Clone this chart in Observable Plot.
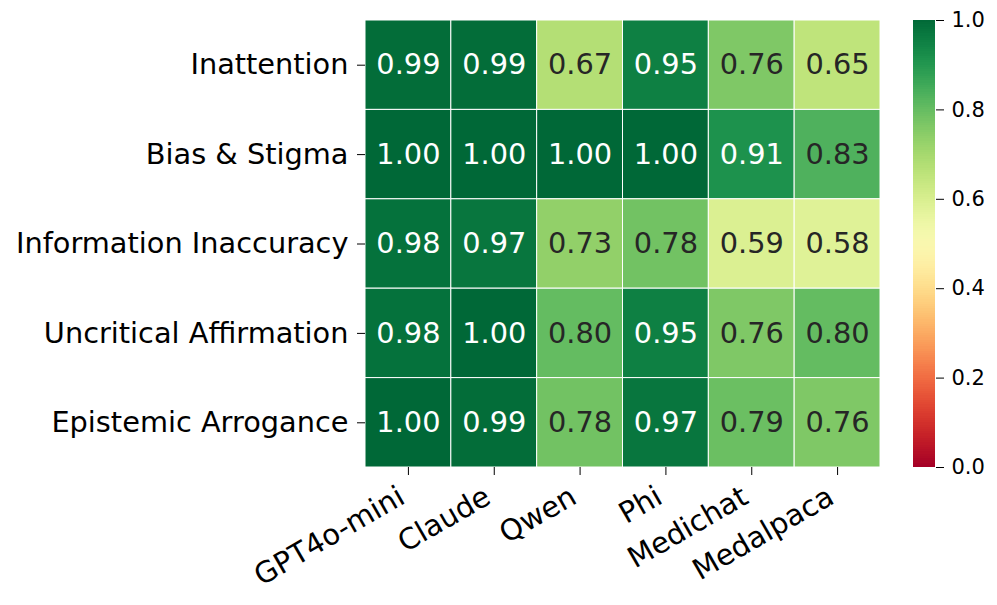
<!DOCTYPE html>
<html>
<head>
<meta charset="utf-8">
<script src="https://cdn.jsdelivr.net/npm/d3@7"></script>
<script src="https://cdn.jsdelivr.net/npm/@observablehq/plot@0.6"></script>
<style>
  html, body { margin: 0; padding: 0; background: white; }
  #wrap { position: relative; width: 997px; height: 605px; }
  #wrap > div, #wrap > svg { position: absolute; top: 0; }
</style>
</head>
<body>
<div id="wrap"></div>
<script>
const models = ["GPT4o-mini", "Claude", "Qwen", "Phi", "Medichat", "Medalpaca"];
const categories = ["Inattention", "Bias & Stigma", "Information Inaccuracy", "Uncritical Affirmation", "Epistemic Arrogance"];
const inattention = [0.99, 0.99, 0.67, 0.95, 0.76, 0.65];
const biasStigma = [1.00, 1.00, 1.00, 1.00, 0.91, 0.83];
const informationInaccuracy = [0.98, 0.97, 0.73, 0.78, 0.59, 0.58];
const uncriticalAffirmation = [0.98, 1.00, 0.80, 0.95, 0.76, 0.80];
const epistemicArrogance = [1.00, 0.99, 0.78, 0.97, 0.79, 0.76];
const colorbarTicks = [0, 0.2, 0.4, 0.6, 0.8, 1.0];

const rows = [inattention, biasStigma, informationInaccuracy, uncriticalAffirmation, epistemicArrogance];
const data = [];
categories.forEach((c, i) => models.forEach((m, j) => data.push({category: c, model: m, value: rows[i][j]})));

const FONT = "DejaVu Sans, Liberation Sans, sans-serif";
const colorOpts = {type: "linear", scheme: "RdYlGn", domain: [0, 1]};

const heat = Plot.plot({
  width: 997, height: 605,
  marginLeft: 365, marginRight: 117, marginTop: 20, marginBottom: 138,
  style: {fontFamily: FONT, background: "white", color: "black"},
  x: {domain: models, padding: 0, round: false, label: null},
  y: {domain: categories, padding: 0, round: false, label: null},
  color: colorOpts,
  marks: [
    Plot.cell(data, {x: "model", y: "category", fill: "value", stroke: "white", strokeWidth: 1}),
    Plot.text(data.filter(d => d.value > 0.87), {x: "model", y: "category", text: d => d.value.toFixed(2), fill: "white", fontSize: 28.8}),
    Plot.text(data.filter(d => d.value <= 0.87), {x: "model", y: "category", text: d => d.value.toFixed(2), fill: "#262626", fontSize: 28.8}),
    Plot.axisX({tickSize: 8, text: null, label: null}),
    Plot.text(models, {x: d => d, frameAnchor: "bottom", rotate: -30, textAnchor: "end", lineAnchor: "top", dy: 17, dx: -12, fontSize: 29, fill: "black"}),
    Plot.axisY({tickSize: 8, tickPadding: 9, fontSize: 28.8, label: null})
  ]
});

const stops = d3.range(0, 1, 0.005);
const bar = Plot.plot({
  width: 84, height: 605,
  marginLeft: 0, marginRight: 62, marginTop: 20, marginBottom: 138,
  style: {fontFamily: FONT, background: "transparent", color: "black"},
  x: {domain: [0, 1], axis: null},
  y: {domain: [0, 1], label: null},
  color: colorOpts,
  marks: [
    Plot.rect(stops, {x1: 0, x2: 1, y1: d => d, y2: d => d + 0.006, fill: d => d, shapeRendering: "crispEdges"}),
    Plot.axisY({anchor: "right", ticks: colorbarTicks, tickFormat: d => d.toFixed(1), tickSize: 8, tickPadding: 8, fontSize: 21, label: null})
  ]
});

const wrap = document.getElementById("wrap");
heat.style.left = "0px";
bar.style.left = "913px";
wrap.appendChild(heat);
wrap.appendChild(bar);
</script>
</body>
</html>
